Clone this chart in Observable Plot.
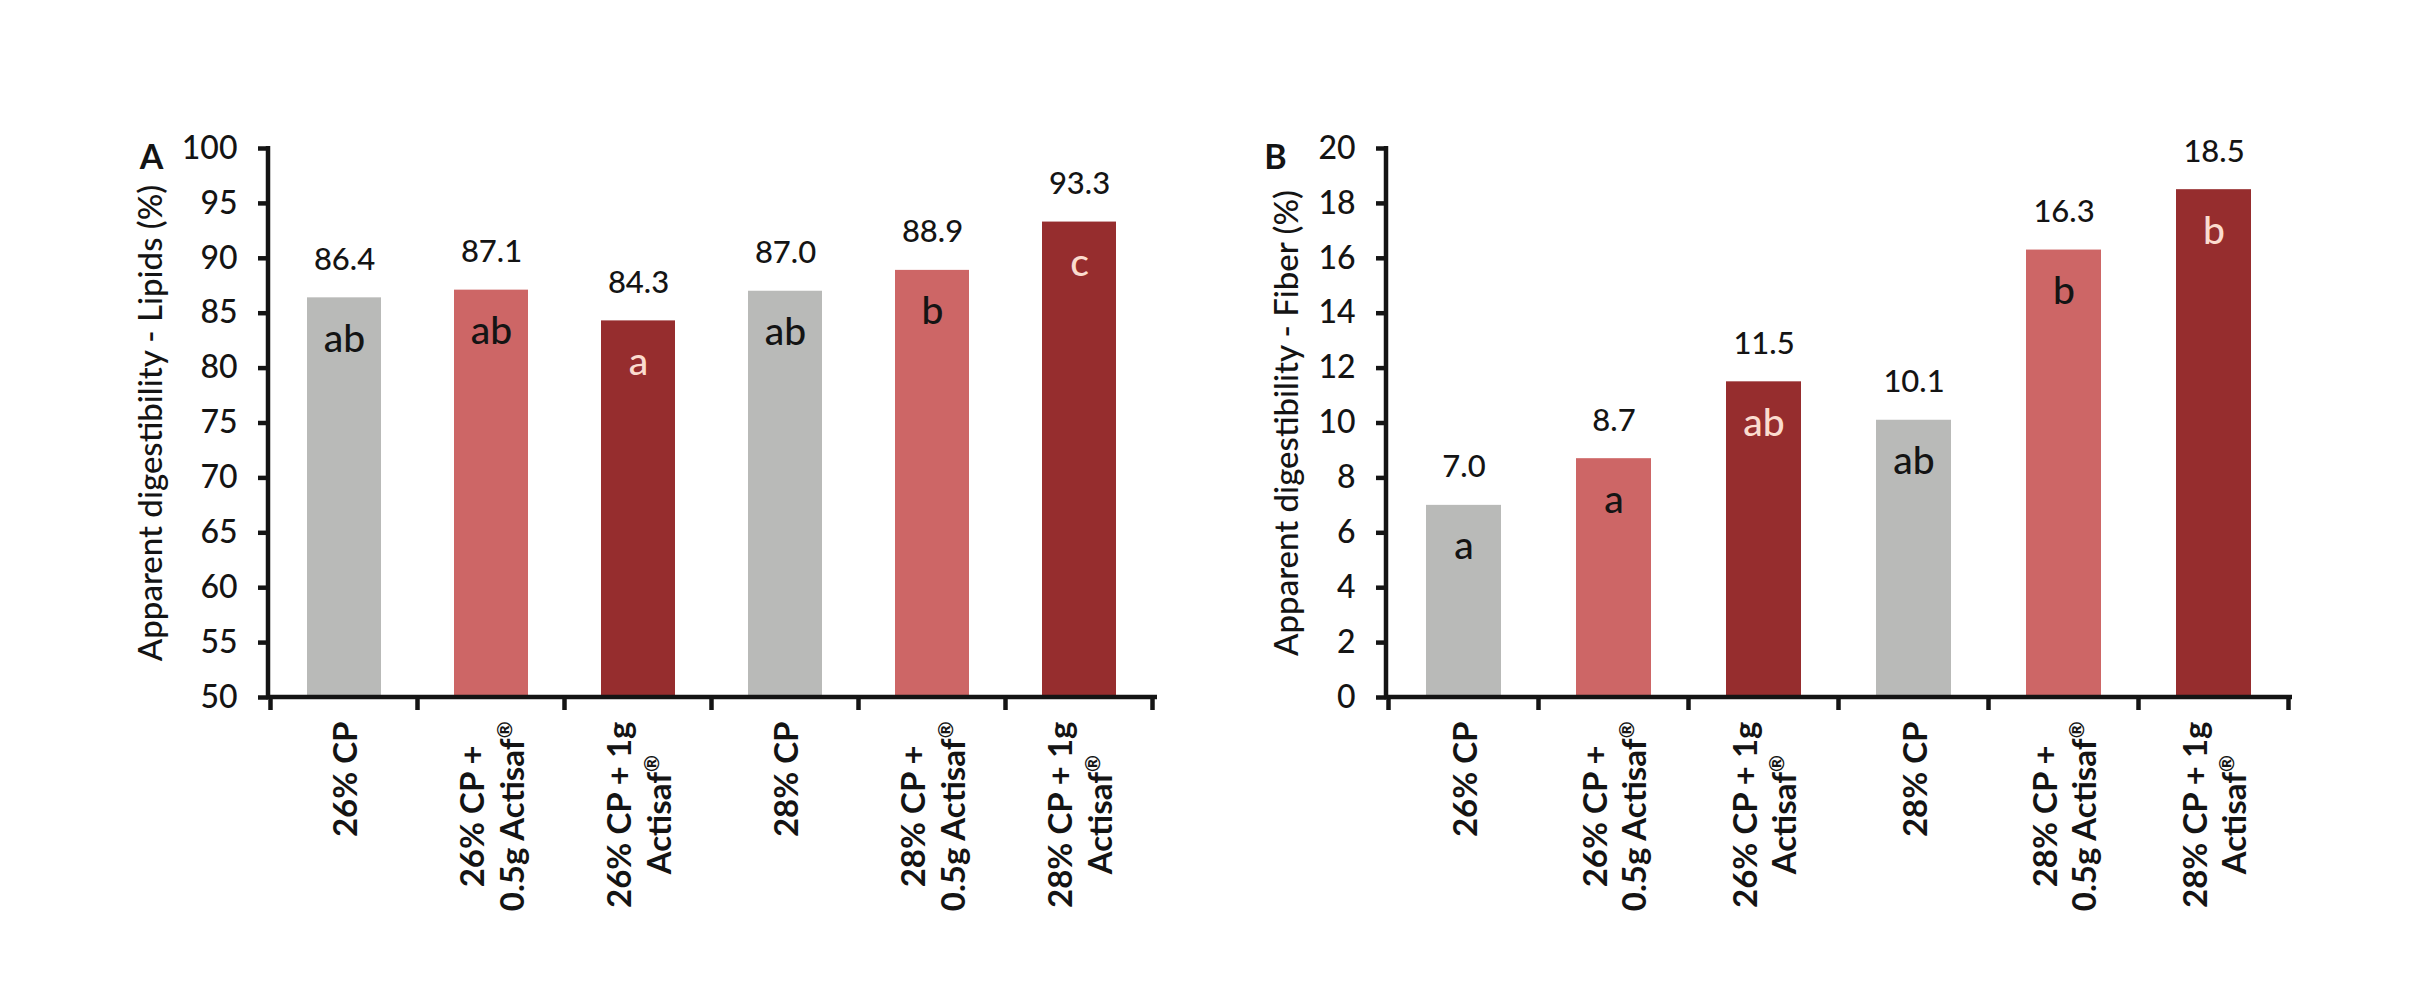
<!DOCTYPE html>
<html>
<head>
<meta charset="utf-8">
<script src="https://cdn.jsdelivr.net/npm/d3@7"></script>
<script src="https://cdn.jsdelivr.net/npm/@observablehq/plot@0.6"></script>
<style>
  html, body { margin: 0; padding: 0; background: #fff; }
  #wrap { position: relative; width: 2436px; height: 992px; overflow: hidden; background: #fff; }
  .panel { position: absolute; top: 0; }
</style>
</head>
<body>
<div id="wrap">
  <div id="pa" class="panel" style="left:0px"></div>
  <div id="pb" class="panel" style="left:1200px"></div>
</div>
<script>
// ---------- data ----------
const treatments = [
  "26% CP",
  "26% CP +\n0.5g Actisaf®",
  "26% CP + 1g\nActisaf®",
  "28% CP",
  "28% CP +\n0.5g Actisaf®",
  "28% CP + 1g\nActisaf®"
];
const doses = ["none", "0.5g", "1g", "none", "0.5g", "1g"];
const lipidValues = [86.4, 87.1, 84.3, 87.0, 88.9, 93.3];
const lipidLetters = ["ab", "ab", "a", "ab", "b", "c"];
const fiberValues = [7.0, 8.7, 11.5, 10.1, 16.3, 18.5];
const fiberLetters = ["a", "a", "ab", "ab", "b", "b"];
const lipidTicks = [50, 55, 60, 65, 70, 75, 80, 85, 90, 95, 100];
const fiberTicks = [0, 2, 4, 6, 8, 10, 12, 14, 16, 18, 20];
const doseDomain = ["none", "0.5g", "1g"];
const doseRange = ["#b9bab8", "#cd6666", "#962d2e"];

const INK = "#141414";
const PALE = "#fbdccf";

function axisDecor(index, scales, values, dims) {
  const {x} = scales;
  const {width, height, marginTop, marginRight, marginBottom, marginLeft} = dims;
  const x0 = marginLeft, x1 = width - marginRight, yb = height - marginBottom;
  const dom = x.domain();
  const bw = x.bandwidth();
  const step = x.step ? x.step() : (x(dom[1]) - x(dom[0]));
  const edges = dom.map(c => x(c) - (step - bw) / 2);
  edges.push(x(dom[dom.length - 1]) + bw + (step - bw) / 2);
  const g = d3.create("svg:g").attr("stroke", INK).attr("stroke-width", 4.5).attr("fill", "none");
  g.append("line").attr("x1", x0).attr("x2", x0).attr("y1", marginTop - 2).attr("y2", yb + 2);
  g.append("line").attr("x1", x0 - 2).attr("x2", x1 + 2).attr("y1", yb).attr("y2", yb);
  for (const e of edges) {
    g.append("line").attr("x1", e).attr("x2", e).attr("y1", yb).attr("y2", yb + 13);
  }
  return g.node();
}

function panel({values, letters, ticks, title, tag, width, marginLeft, marginRight, titleDx, tagDx}) {
  const data = treatments.map((t, i) => ({t, dose: doses[i], v: values[i], letter: letters[i]}));
  const yMin = ticks[0];
  return Plot.plot({
    width,
    height: 992,
    marginLeft,
    marginRight,
    marginTop: 148,
    marginBottom: 295,
    style: {fontFamily: "Lato, 'Open Sans', sans-serif", color: INK, background: "transparent", overflow: "visible"},
    x: {domain: treatments, paddingInner: 0.5, paddingOuter: 0.25, axis: null},
    y: {domain: [ticks[0], ticks[ticks.length - 1]], axis: null},
    color: {domain: doseDomain, range: doseRange},
    marks: [
      Plot.barY(data, {x: "t", y1: yMin, y2: "v", fill: "dose"}),
      axisDecor,
      Plot.axisY({ticks, tickSize: 10, tickPadding: 21, strokeWidth: 4.5, fontSize: 32, fontWeight: 500, label: null, tickFormat: d => String(d), fill: INK}),
      Plot.text(data, {x: "t", y: "v", text: d => d.v.toFixed(1), dy: -28, lineAnchor: "bottom", fontSize: 31, fontWeight: 500, fill: INK}),
      Plot.text(data, {filter: d => d.dose !== "1g", x: "t", y: "v", text: "letter", dy: 54, lineAnchor: "bottom", fontSize: 39, fontWeight: 500, fill: INK}),
      Plot.text(data, {filter: d => d.dose === "1g", x: "t", y: "v", text: "letter", dy: 54, lineAnchor: "bottom", fontSize: 39, fontWeight: 500, fill: PALE}),
      Plot.text(data, {x: "t", text: "t", frameAnchor: "bottom", dy: 24, rotate: -90, textAnchor: "end", lineAnchor: "middle", lineHeight: 1.2, fontWeight: "bold", fontSize: 33, fill: INK}),
      Plot.text([title], {text: d => d, frameAnchor: "left", rotate: -90, dx: titleDx, lineAnchor: "bottom", textAnchor: "middle", fontSize: 33, fontWeight: 500, fill: INK}),
      Plot.text([tag], {text: d => d, frameAnchor: "top-left", dx: tagDx, dy: 20, lineAnchor: "bottom", textAnchor: "middle", fontWeight: "bold", fontSize: 34, fill: INK})
    ]
  });
}

document.getElementById("pa").append(panel({
  values: lipidValues, letters: lipidLetters, ticks: lipidTicks,
  title: "Apparent digestibility - Lipids (%)", tag: "A",
  width: 1200, marginLeft: 268, marginRight: 45, titleDx: -107, tagDx: -117
}));
document.getElementById("pb").append(panel({
  values: fiberValues, letters: fiberLetters, ticks: fiberTicks,
  title: "Apparent digestibility - Fiber (%)", tag: "B",
  width: 1236, marginLeft: 186, marginRight: 146, titleDx: -89, tagDx: -111
}));

// render the registered sign as a small superscript, then center the lines of
// multi-line rotated category labels
const SVGNS = "http://www.w3.org/2000/svg";
document.querySelectorAll("svg text tspan").forEach(s => {
  const txt = s.textContent;
  if (!txt.endsWith("®")) return;
  s.textContent = txt.slice(0, -1);
  const sup = document.createElementNS(SVGNS, "tspan");
  sup.setAttribute("font-size", "0.62em");
  sup.setAttribute("baseline-shift", "super");
  sup.textContent = "®";
  s.appendChild(sup);
});
document.querySelectorAll("svg text").forEach(t => {
  const spans = t.querySelectorAll(":scope > tspan");
  if (spans.length < 2) return;
  const L = Math.max(...[...spans].map(s => s.getComputedTextLength()));
  t.setAttribute("text-anchor", "middle");
  spans.forEach(s => s.setAttribute("x", -L / 2));
});
</script>
</body>
</html>
